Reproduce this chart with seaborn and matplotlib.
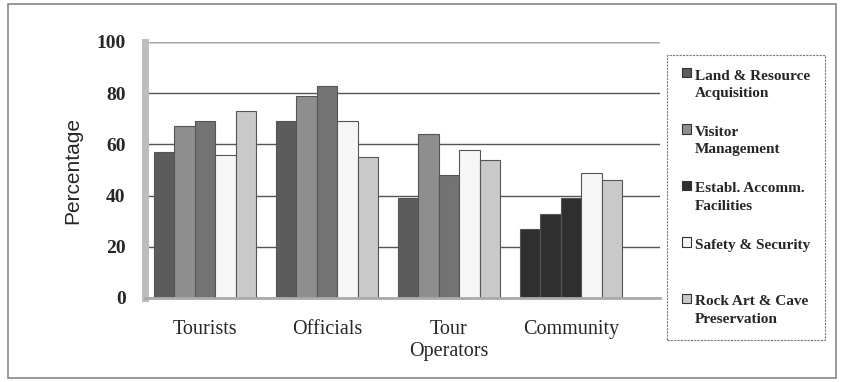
import matplotlib
matplotlib.use("Agg")
import matplotlib.pyplot as plt
import seaborn as sns
import pandas as pd
from matplotlib.patches import Rectangle
from matplotlib.legend_handler import HandlerPatch

groups = ["Tourists", "Officials", "Tour\nOperators", "Community"]
series = ["Land & Resource Acquisition", "Visitor Management",
          "Establ. Accomm. Facilities", "Safety & Security",
          "Rock Art & Cave Preservation"]
legend_labels = ["Land & Resource\nAcquisition", "Visitor\nManagement",
                 "Establ. Accomm.\nFacilities", "Safety & Security\n",
                 "Rock Art & Cave\nPreservation"]
land = [57, 69, 39, 27]
visitor = [67, 79, 64, 33]
establ = [69, 83, 48, 39]
safety = [56, 69, 58, 49]
rock = [73, 55, 54, 46]

values = [land, visitor, establ, safety, rock]
rows = []
for s, vals in zip(series, values):
    for g, v in zip(groups, vals):
        rows.append({"Group": g, "Series": s, "Value": v})
df = pd.DataFrame(rows)

colors = ["#5c5c5c", "#8e8e8e", "#737373", "#f6f6f6", "#c9c9c9"]

sns.set_style("white")
plt.rcParams["font.family"] = ["Liberation Serif", "DejaVu Serif"]

fig = plt.figure(figsize=(8.44, 3.82), dpi=100)
ax = fig.add_axes([145 / 844, 1 - 298 / 382, 515 / 844, 256 / 382])

sns.barplot(data=df, x="Group", y="Value", hue="Series", order=groups,
            hue_order=series, palette=colors, width=0.84, ax=ax,
            edgecolor="#555555", linewidth=0.8, saturation=1, legend=False)

# scanned image shows the first three Community bars almost black
for i, cont in enumerate(ax.containers[:3]):
    cont.patches[3].set_facecolor("#2f2f2f")

ax.set_xlim(-0.49, 3.73)
ax.set_ylim(0, 100)
ax.set_yticks([0, 20, 40, 60, 80, 100])
ax.yaxis.grid(True, color="#555555", linewidth=1.0)
ax.set_axisbelow(True)
for sp in ["top", "right"]:
    ax.spines[sp].set_visible(False)
ax.spines["left"].set_color("#bdbdbd")
ax.spines["left"].set_linewidth(5)
ax.spines["bottom"].set_color("#aaaaaa")
ax.spines["bottom"].set_linewidth(2)
ax.axhline(100, color="#aaaaaa", linewidth=1)

ax.set_xlabel("")
ax.set_ylabel("Percentage", family=["Liberation Sans", "DejaVu Sans"],
              fontsize=15, labelpad=10)
ax.tick_params(axis="y", labelsize=14, pad=14, length=0)
for lab in ax.get_yticklabels():
    lab.set_fontweight("bold")
ax.tick_params(axis="x", labelsize=14.5, pad=16, length=0)

FS = 11
LS = 1.45


def first_line_patch(legend, orig_handle, xdescent, ydescent, width, height, fontsize):
    return Rectangle((-xdescent, -ydescent + 0.6 * fontsize * LS - 1), width, height)


handles = [Rectangle((0, 0), 1, 1, facecolor=c, edgecolor="#333333", linewidth=0.8)
           for c in ["#5c5c5c", "#8e8e8e", "#2f2f2f", "#f6f6f6", "#c9c9c9"]]
leg = fig.legend(handles, legend_labels, loc="upper left",
                 bbox_to_anchor=(667 / 844, 1 - 55 / 382),
                 frameon=True, fancybox=False,
                 prop={"weight": "bold", "size": FS},
                 handlelength=0.6, handleheight=0.6, handletextpad=0.3,
                 labelspacing=1.7, borderpad=0.95, borderaxespad=0,
                 handler_map={Rectangle: HandlerPatch(patch_func=first_line_patch)})
for t in leg.get_texts():
    t.set_linespacing(LS)
leg.get_frame().set_edgecolor("#555555")
leg.get_frame().set_linewidth(0.8)
leg.get_frame().set_linestyle((0, (2, 1)))

# outer chart border
fig.patches.append(Rectangle((8 / 844, 4 / 382), 828 / 844, 374 / 382,
                             transform=fig.transFigure, fill=False,
                             edgecolor="#888888", linewidth=1.2))

fig.savefig("out.png", dpi=100)
